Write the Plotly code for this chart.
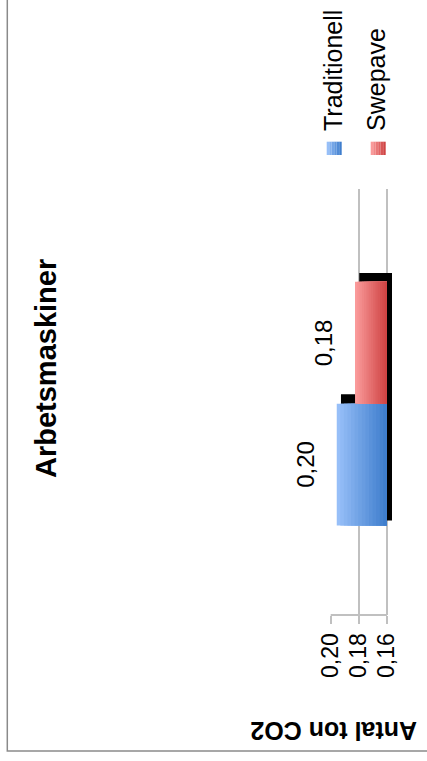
import plotly.graph_objects as go

# --- data -------------------------------------------------------------
category = "Arbetsmaskiner"
series = ["Traditionell", "Swepave"]
values = [0.1957, 0.1827]          # ton CO2
base_value = 0.16                  # value axis starts here
tick_vals = [0.16, 0.18, 0.20]
tick_text = ["0,16", "0,18", "0,20"]
axis_title = "Antal ton CO2"

# --- styling ----------------------------------------------------------
FONT = "Liberation Sans, Arial, sans-serif"
light = ["#97BFF8", "#FA9A9A"]
dark = ["#3F7ECD", "#CF4444"]
GRID = "#C0C0C0"
STEPS = 14

W, H = 427, 761
ML, MR, MT, MB = 330, 35, 189, 146
PW, PH = W - ML - MR, H - MT - MB


def px(xp):
    """pixel x -> paper x"""
    return (xp - ML) / PW


def py(yp):
    """pixel y -> paper y"""
    return (H - MB - yp) / PH


def mix(c1, c2, t):
    a = [int(c1[i:i + 2], 16) for i in (1, 3, 5)]
    b = [int(c2[i:i + 2], 16) for i in (1, 3, 5)]
    return "#" + "".join(f"{round(a[k] + (b[k] - a[k]) * t):02x}" for k in range(3))


bar_width = 0.286
bar_offset = [-0.290, -0.004]
shadow_width = 0.296
shadow_offset = [-0.278, 0.007]
shadow_base_shift = 0.0037
shadow_tip_shift = 0.0030

fig = go.Figure()

# dark drop shadows behind the bars
for i, v in enumerate(values):
    sb = base_value - shadow_base_shift
    fig.add_trace(go.Bar(
        y=[0], x=[(v - shadow_tip_shift) - sb], base=[sb], orientation="h",
        width=[shadow_width], offset=[shadow_offset[i]],
        marker=dict(color="#000000", line=dict(width=0)),
        hoverinfo="skip", showlegend=False))

# bars with a stepped gradient: light at the tip, dark at the base
for i, (name, v) in enumerate(zip(series, values)):
    length = v - base_value
    for s in range(STEPS):
        fig.add_trace(go.Bar(
            y=[0], x=[length * (1 - s / STEPS)], base=[base_value],
            orientation="h", width=[bar_width], offset=[bar_offset[i]],
            marker=dict(color=mix(light[i], dark[i], s / (STEPS - 1)),
                        line=dict(width=0)),
            name=name, hoverinfo="skip" if s else "x+name", showlegend=False))

annotations = []
# value labels
for i, v in enumerate(values):
    annotations.append(dict(
        x=v, y=bar_offset[i] + bar_width / 2, xref="x", yref="y",
        text=f"{v:.2f}".replace(".", ","), textangle=-90, showarrow=False,
        xanchor="right", yanchor="middle", xshift=-16,
        font=dict(family=FONT, size=24, color="#000000")))

# chart title
annotations.append(dict(
    x=px(46), y=py(369), xref="paper", yref="paper", text=f"<b>{category}</b>",
    textangle=-90, showarrow=False, xanchor="center", yanchor="middle",
    font=dict(family=FONT, size=29, color="#000000")))

# value axis title
annotations.append(dict(
    x=px(334), y=py(731), xref="paper", yref="paper", text=f"<b>{axis_title}</b>",
    textangle=180, showarrow=False, xanchor="center", yanchor="middle",
    font=dict(family=FONT, size=25, color="#000000")))

# legend (rotated)
legend_x = [332.5, 375.5]
sq_left = [326.7, 370.7]
shapes = []
for i, name in enumerate(series):
    annotations.append(dict(
        x=px(legend_x[i]), y=py(133), xref="paper", yref="paper", text=name,
        textangle=-90, showarrow=False, xanchor="center", yanchor="bottom",
        font=dict(family=FONT, size=25, color="#000000")))
    n = 6
    sw = 15 / n
    for s in range(n):
        shapes.append(dict(
            type="rect", xref="paper", yref="paper",
            x0=px(sq_left[i] + s * sw), x1=px(sq_left[i] + (s + 1) * sw),
            y0=py(155), y1=py(141.7), line=dict(width=0),
            fillcolor=mix(light[i], dark[i], s / (n - 1))))

# value axis line
shapes.append(dict(type="line", xref="x", yref="paper",
                   x0=tick_vals[0], x1=tick_vals[-1], y0=0, y1=0,
                   line=dict(color=GRID, width=2)))

# outer chart frame
shapes.append(dict(type="rect", xref="paper", yref="paper",
                   x0=px(7.3), x1=px(W + 20), y0=py(751), y1=py(-20),
                   line=dict(color="#8A8A8A", width=1.5), layer="below"))

fig.update_layout(
    width=W, height=H, margin=dict(l=ML, r=MR, t=MT, b=MB),
    paper_bgcolor="#FFFFFF", plot_bgcolor="#FFFFFF",
    barmode="overlay", showlegend=False,
    annotations=annotations, shapes=shapes,
    font=dict(family=FONT, color="#000000"),
    xaxis=dict(range=[0.2005, 0.1564], tickvals=tick_vals, ticktext=tick_text,
               tickangle=-90, ticks="outside", ticklen=8, tickwidth=2,
               tickcolor=GRID, showgrid=True, gridcolor=GRID, gridwidth=2,
               showline=False, zeroline=False,
               tickfont=dict(family=FONT, size=23, color="#000000")),
    yaxis=dict(range=[-0.5, 0.5], visible=False, fixedrange=True),
)

fig.write_html("out.html", config={"displayModeBar": False})
